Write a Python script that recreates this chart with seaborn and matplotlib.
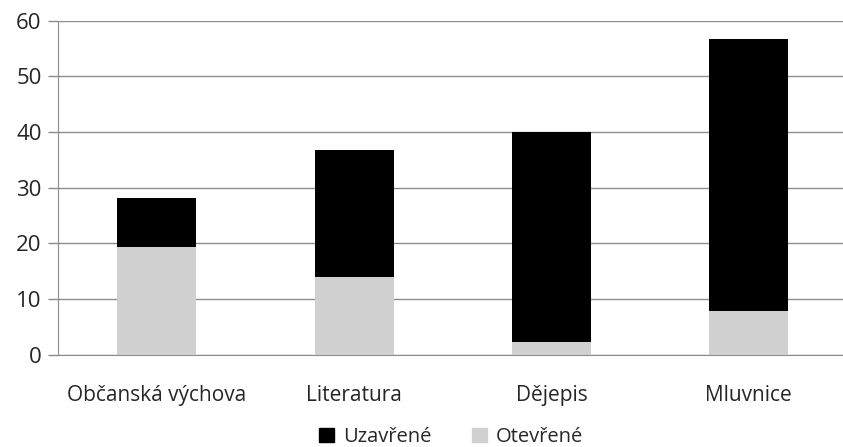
import pandas as pd
import matplotlib.pyplot as plt
import seaborn as sns
from matplotlib.patches import Patch

# data
categories = ['Občanská výchova', 'Literatura', 'Dějepis', 'Mluvnice']
otevrene = [19.3, 14.0, 2.3, 7.9]
uzavrene = [8.8, 22.7, 37.7, 48.8]

df = pd.DataFrame({'predmet': categories, 'Otevřené': otevrene, 'Uzavřené': uzavrene})
df['celkem'] = df['Otevřené'] + df['Uzavřené']

sns.set_style('white')
plt.rcParams['font.family'] = ['Open Sans', 'DejaVu Sans']

fig = plt.figure(figsize=(8.43, 4.47), dpi=100)
# plot runs a bit past the right edge like in the original
ax = fig.add_axes([58.3 / 843, 1 - 354.7 / 447, 789 / 843, 334 / 447])

# black = total, gray drawn over it from zero
sns.barplot(data=df, x='predmet', y='celkem', color='black', width=0.4, saturation=1,
            linewidth=0, ax=ax, zorder=3)
sns.barplot(data=df, x='predmet', y='Otevřené', color='#d0d0d0', width=0.4, saturation=1,
            linewidth=0, ax=ax, zorder=4)

ax.set_ylim(0, 60)
ax.set_xlim(-0.5, 3.5)
ax.set_yticks(range(0, 61, 10))
ax.yaxis.grid(True, color='#8c8c8c', linewidth=1)
ax.set_axisbelow(True)
ax.set_xlabel('')
ax.set_ylabel('')

for s in ['top', 'right']:
    ax.spines[s].set_visible(False)
ax.spines['left'].set_color('#8c8c8c')
ax.spines['bottom'].set_color('#8c8c8c')

# tick marks on category boundaries
ax.set_xticks([0, 1, 2, 3])
ax.set_xticklabels(categories)
ax.set_xticks([-0.5, 0.5, 1.5, 2.5], minor=True)
ax.tick_params(axis='x', which='major', length=0, pad=22, labelsize=15, labelcolor='#262626')
ax.tick_params(axis='x', which='minor', length=7, color='#8c8c8c', width=1, direction='out')
ax.tick_params(axis='y', length=7, color='#8c8c8c', width=1, direction='out', left=True,
               labelsize=16, labelcolor='#262626', pad=5)

handles = [Patch(color='black', label='Uzavřené'), Patch(color='#d0d0d0', label='Otevřené')]
fig.legend(handles=handles, loc='center', bbox_to_anchor=(451 / 843, 1 - 437 / 447), ncol=2,
           frameon=False, fontsize=14.5, handlelength=0.75, handleheight=0.75,
           handletextpad=0.45, columnspacing=2.0, labelcolor='#262626')

fig.savefig('out.png', dpi=100)
